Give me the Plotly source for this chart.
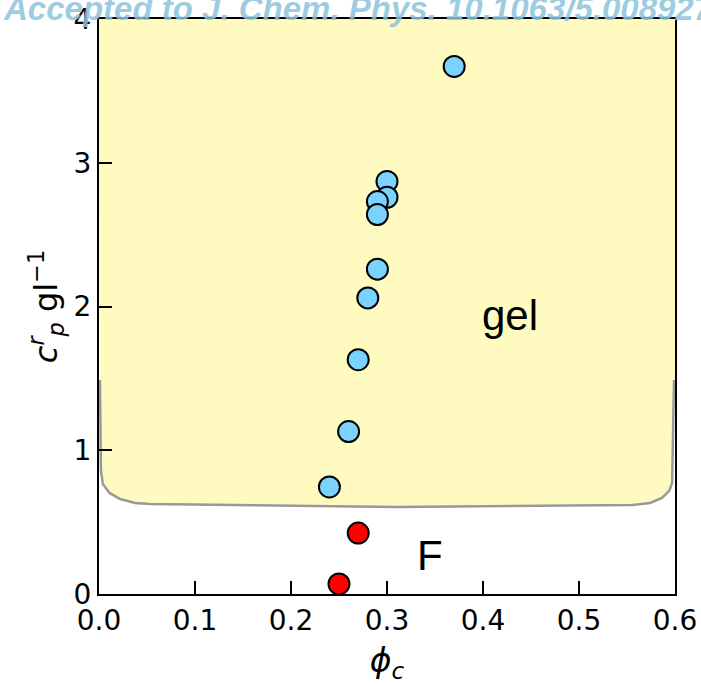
import plotly.graph_objects as go

# Gel points (blue)
gel_phi = [0.37, 0.30, 0.30, 0.29, 0.29, 0.29, 0.28, 0.27, 0.26, 0.24]
gel_cp = [3.67, 2.87, 2.76, 2.73, 2.64, 2.26, 2.06, 1.63, 1.13, 0.745]
# Fluid points (red)
fl_phi = [0.27, 0.25]
fl_cp = [0.424, 0.07]

# Gel region boundary (lower part)
bnd_x = [0.001, 0.002, 0.004, 0.011, 0.022, 0.0375, 0.053, 0.31, 0.556, 0.574, 0.5865, 0.594, 0.597, 0.599]
bnd_y = [1.489, 0.863, 0.765, 0.703, 0.661, 0.633, 0.626, 0.605, 0.619, 0.633, 0.668, 0.717, 0.772, 1.489]

L, R, T, B = 99, 26, 19, 90
W, H = 701, 684
pw, ph = W - L - R, H - T - B

fig = go.Figure()
fig.add_trace(go.Scatter(
    x=[0.0] + bnd_x + [0.6, 0.6, 0.0], y=[4.0] + bnd_y + [1.489, 4.0, 4.0],
    fill="toself", fillcolor="rgb(255,251,192)", mode="none", hoverinfo="skip", showlegend=False))
fig.add_trace(go.Scatter(x=bnd_x, y=bnd_y, mode="lines",
                         line=dict(color="#999999", width=2.5), hoverinfo="skip", showlegend=False))
fig.add_trace(go.Scatter(x=gel_phi, y=gel_cp, mode="markers",
                         marker=dict(size=21, color="#7AD3FF", line=dict(color="black", width=2)),
                         showlegend=False))
fig.add_trace(go.Scatter(x=fl_phi, y=fl_cp, mode="markers",
                         marker=dict(size=21, color="#FF0000", line=dict(color="black", width=2)),
                         showlegend=False))

fig.add_annotation(x=0.428, y=1.94, text="gel", showarrow=False,
                   font=dict(size=42, color="black", family="Liberation Sans"))
fig.add_annotation(x=0.345, y=0.27, text="F", showarrow=False,
                   font=dict(size=42, color="black", family="Liberation Sans"))
fig.add_annotation(xref="paper", yref="paper", x=(1 - L) / pw, y=1 + (T - 8) / ph,
                   xanchor="left", yanchor="middle", showarrow=False,
                   text="<b><i>Accepted to J. Chem. Phys. 10.1063/5.0089276</i></b>",
                   font=dict(size=33, color="rgba(140,195,220,0.85)", family="Liberation Sans"))

axis_common = dict(showline=True, linecolor="black", linewidth=2, mirror=True,
                   ticks="inside", ticklen=13, tickwidth=2, tickcolor="black",
                   showgrid=False, zeroline=False, automargin=False,
                   tickfont=dict(size=28, color="black", family="DejaVu Sans"))
fig.update_xaxes(range=[0, 0.6], tickvals=[0, 0.1, 0.2, 0.3, 0.4, 0.5, 0.6],
                 ticktext=["0.0", "0.1", "0.2", "0.3", "0.4", "0.5", "0.6"],
                 title=dict(text="<i>ϕ</i><sub><i>c</i></sub>", font=dict(size=33, color="black", family="DejaVu Sans"), standoff=13),
                 **axis_common)
fig.update_yaxes(range=[0, 4], tickvals=[0, 1, 2, 3, 4],
                 title=dict(text="<i>c</i><sup><i>r</i></sup><sub><i>p</i></sub> gl<sup>−1</sup>",
                            font=dict(size=32, color="black", family="DejaVu Sans"), standoff=6),
                 **axis_common)
fig.update_layout(width=W, height=H, margin=dict(l=L, r=R, t=T, b=B, autoexpand=False),
                  plot_bgcolor="white", paper_bgcolor="white")
fig.write_html("out.html")
